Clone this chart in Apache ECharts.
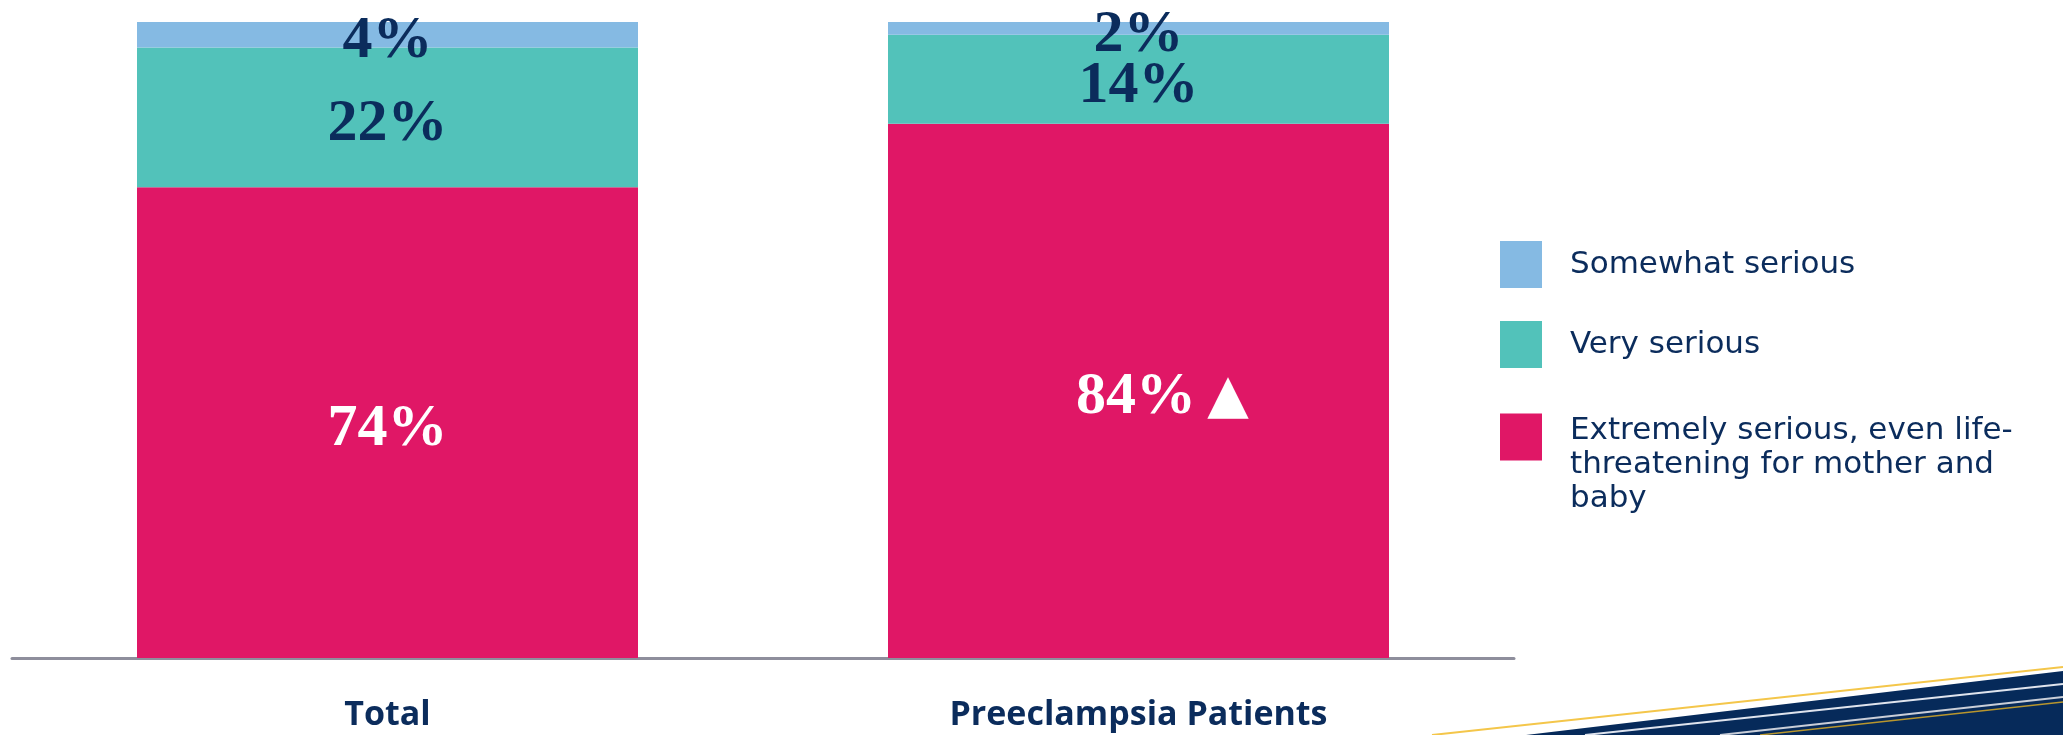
<!DOCTYPE html>
<html>
<head>
<meta charset="utf-8">
<script src="https://cdn.jsdelivr.net/npm/echarts@6/dist/echarts.min.js"></script>
<style>
html,body{margin:0;padding:0;background:#fff;}
#chart{width:2063px;height:735px;}
</style>
</head>
<body>
<div id="chart"></div>
<script>
// ---- data ----
const categories = ['Total', 'Preeclampsia Patients'];
const seriesNames = ['Somewhat serious', 'Very serious', 'Extremely serious, even life-threatening for mother and baby'];
const legendLines = [['Somewhat serious'], ['Very serious'], ['Extremely serious, even life-', 'threatening for mother and', 'baby']];
const extremelySerious = [74, 84];
const verySerious = [22, 14];
const somewhatSerious = [4, 2];
const extremelySig = ['', '▲'];

const NAVY = '#0b2c5c';
const C_LIGHT = '#85bae3';
const C_TEAL = '#52c2ba';
const C_RED = '#e01766';

const chart = echarts.init(document.getElementById('chart'));

function valueLabel(color, sigArr) {
  return {
    show: true,
    position: 'inside',
    formatter: function (p) {
      const sig = sigArr ? sigArr[p.dataIndex] : '';
      if (sig) return '{pad|}{v|' + p.value + '%}{tri|' + sig + '}';
      return '{v|' + p.value + '%}';
    },
    rich: {
      v: { fontFamily: 'Liberation Serif', fontWeight: 'bold', fontSize: 60, color: color, lineHeight: 64, padding: [14, 0, 0, 0] },
      pad: { width: 54, lineHeight: 64, padding: [14, 0, 0, 0] },
      tri: { fontFamily: 'DejaVu Sans', fontSize: 54, color: color, width: 54, lineHeight: 64, padding: [14, 0, 0, 5] }
    }
  };
}

function legendCfg(idx, top, gapH) {
  const lines = legendLines[idx];
  return {
    orient: 'vertical',
    left: 1500,
    top: top,
    padding: 0,
    itemWidth: 42,
    itemHeight: 47,
    selectedMode: false,
    icon: 'rect',
    data: [seriesNames[idx]],
    formatter: function () {
      const body = lines.map(function (l) { return '{t|' + l + '}'; }).join('\n');
      return gapH ? '{gap| }\n' + body : body;
    },
    textStyle: {
      fontFamily: 'DejaVu Sans',
      fontSize: 31,
      color: NAVY,
      padding: [0, 0, 0, 23],
      rich: {
        t: { fontFamily: 'DejaVu Sans', fontSize: 31, color: NAVY, lineHeight: 34 },
        gap: { fontSize: 10, lineHeight: gapH || 1 }
      }
    }
  };
}

const option = {
  backgroundColor: '#ffffff',
  animation: false,
  grid: { left: 12, right: 549, top: 22, bottom: 77, containLabel: false },
  legend: [
    legendCfg(0, 241, 0),
    legendCfg(1, 321, 0),
    legendCfg(2, 381, 56)
  ],
  xAxis: {
    type: 'category',
    data: categories,
    axisLine: { show: true, lineStyle: { color: '#8e8e9c', width: 3 } },
    axisTick: { show: false },
    axisLabel: {
      margin: 39,
      fontFamily: 'Open Sans',
      fontWeight: 'bold',
      fontSize: 34,
      lineHeight: 36,
      color: NAVY
    }
  },
  yAxis: {
    type: 'value',
    min: 0,
    max: 100,
    show: false,
    splitLine: { show: false }
  },
  series: [
    {
      name: seriesNames[2],
      type: 'bar',
      stack: 'total',
      barWidth: 501,
      data: extremelySerious,
      itemStyle: { color: C_RED },
      label: valueLabel('#ffffff', extremelySig)
    },
    {
      name: seriesNames[1],
      type: 'bar',
      stack: 'total',
      barWidth: 501,
      data: verySerious,
      itemStyle: { color: C_TEAL },
      label: valueLabel(NAVY)
    },
    {
      name: seriesNames[0],
      type: 'bar',
      stack: 'total',
      barWidth: 501,
      data: somewhatSerious,
      itemStyle: { color: C_LIGHT },
      label: valueLabel(NAVY)
    }
  ],
  graphic: [
    { type: 'polygon', silent: true, z: -1, shape: { points: [[1526, 735], [2063, 671], [2063, 735]] }, style: { fill: '#062a5a' } },
    { type: 'line', silent: true, z: 0, shape: { x1: 1432, y1: 735, x2: 2063, y2: 667 }, style: { stroke: '#f4c64a', lineWidth: 2 } },
    { type: 'line', silent: true, z: 0, shape: { x1: 1585, y1: 735, x2: 2063, y2: 684 }, style: { stroke: '#dfe4ee', lineWidth: 2 } },
    { type: 'line', silent: true, z: 0, shape: { x1: 1720, y1: 735, x2: 2063, y2: 697 }, style: { stroke: '#c9ced8', lineWidth: 2 } },
    { type: 'line', silent: true, z: 0, shape: { x1: 1760, y1: 735, x2: 2063, y2: 702 }, style: { stroke: '#b8962e', lineWidth: 1.5 } }
  ]
};

chart.setOption(option);
</script>
</body>
</html>
